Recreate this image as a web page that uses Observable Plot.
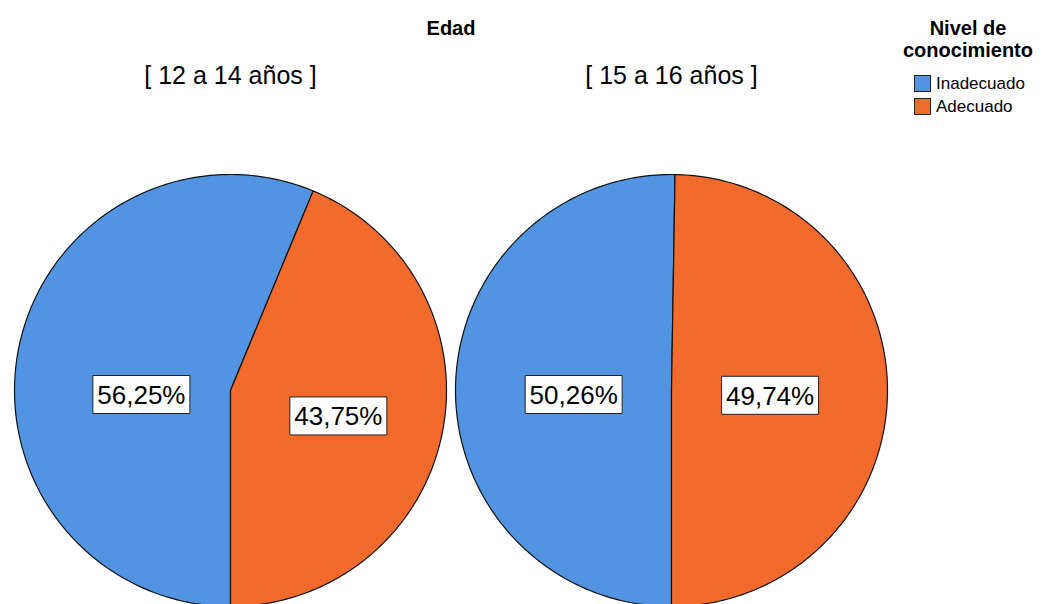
<!DOCTYPE html>
<html>
<head>
<meta charset="utf-8">
<script src="https://cdn.jsdelivr.net/npm/d3@7"></script>
<script src="https://cdn.jsdelivr.net/npm/@observablehq/plot@0.6"></script>
<style>
  html, body { margin: 0; padding: 0; background: #fff; overflow: hidden; }
  #wrap { position: relative; width: 1046px; height: 604px; font-family: "Liberation Sans", Arial, sans-serif; }
  #wrap svg { overflow: hidden; }
  g[aria-label="fx-axis label"] text { font-weight: bold; font-size: 20px; }
  #legend { position: absolute; left: 890px; top: 17px; width: 156px; color: #000; }
  #legend .title { text-align: center; font-weight: bold; font-size: 20px; line-height: 22px; }
  #legend .item { position: absolute; left: 24px; font-size: 17px; line-height: 20px; white-space: nowrap; }
  #legend .sw { position: absolute; left: 0; top: 1px; width: 15px; height: 15px; border: 1px solid #222; }
  #legend .lbl { position: absolute; left: 22px; top: 0; }
</style>
</head>
<body>
<div id="wrap"></div>
<script>
// ---- data ----
const edades = ["[ 12 a 14 años ]", "[ 15 a 16 años ]"];
const niveles = ["Inadecuado", "Adecuado"];
const inadecuado = [56.25, 50.26];
const adecuado = [43.75, 49.74];
const colores = ["#5294e2", "#f26a2c"];
const titulo = "Edad";
const tituloLeyenda = "Nivel de conocimiento";

// ---- build slices (unit circle, clockwise from 6 o'clock) ----
const rad = Math.PI / 180;
const polys = [];
const labels = [];
edades.forEach((edad, i) => {
  const vals = [inadecuado[i], adecuado[i]];
  let a0 = 180;
  vals.forEach((v, j) => {
    const sweep = 360 * v / 100;
    const a1 = a0 + sweep;
    const key = edad + "|" + niveles[j];
    polys.push({edad, nivel: niveles[j], key, x: 0, y: 0});
    const n = Math.max(2, Math.ceil(sweep));
    for (let k = 0; k <= n; k++) {
      const t = (a0 + (a1 - a0) * k / n) * rad;
      polys.push({edad, nivel: niveles[j], key, x: Math.sin(t), y: Math.cos(t)});
    }
    polys.push({edad, nivel: niveles[j], key, x: 0, y: 0});
    // label at (scaled) sector centroid
    const half = sweep / 2 * rad;
    const d = 2 * Math.sin(half) / (3 * half) * 1.07 * (1 + Math.max(0, v - 50) / 100);
    const m = (a0 + sweep / 2) * rad;
    let ly = d * Math.cos(m);
    if (ly > 0) ly = 0;
    labels.push({edad, x: d * Math.sin(m), y: ly, text: v.toFixed(2).replace(".", ",") + "%"});
    a0 = a1;
  });
});

const boxSymbol = {
  draw(ctx) { ctx.rect(-48.5, -19, 97, 38); }
};

const H = 604, R = 216, CY = 390;
const marginTop = CY - R;

const chart = Plot.plot({
  width: 1046,
  height: H,
  marginLeft: 14,
  marginRight: 158.5,
  marginTop: marginTop,
  marginBottom: 0,
  style: {fontFamily: '"Liberation Sans", Arial, sans-serif', background: "#fff", color: "#000"},
  fx: {domain: edades, paddingInner: 9.5 / 441.5, paddingOuter: 0},
  x: {domain: [-1, 1], axis: null},
  y: {domain: [1 - (H - marginTop) / R, 1], axis: null},
  color: {domain: niveles, range: colores},
  marks: [
    Plot.axisFx({anchor: "top", tickSize: 0, tickPadding: 91, fontSize: 25, label: titulo, labelAnchor: "center", labelOffset: 154}),
    Plot.line(polys, {fx: "edad", x: "x", y: "y", z: "key", fill: "nivel", stroke: "#111", strokeWidth: 1.2, curve: "linear-closed"}),
    Plot.dot(labels, {fx: "edad", x: "x", y: "y", dy: 4, symbol: boxSymbol, fill: "white", stroke: "#222", strokeWidth: 1}),
    Plot.text(labels, {fx: "edad", x: "x", y: "y", dy: 5, text: "text", fontSize: 26, fill: "black"})
  ]
});
document.getElementById("wrap").appendChild(chart);

// ---- legend ----
const lg = document.createElement("div");
lg.id = "legend";
const words = tituloLeyenda.split(" ");
lg.innerHTML = `<div class="title">${words.slice(0, 2).join(" ")}<br>${words.slice(2).join(" ")}</div>`;
niveles.forEach((n, i) => {
  const it = document.createElement("div");
  it.className = "item";
  it.style.top = (57 + i * 23) + "px";
  it.innerHTML = `<span class="sw" style="background:${colores[i]}"></span><span class="lbl">${n}</span>`;
  lg.appendChild(it);
});
document.getElementById("wrap").appendChild(lg);
</script>
</body>
</html>
